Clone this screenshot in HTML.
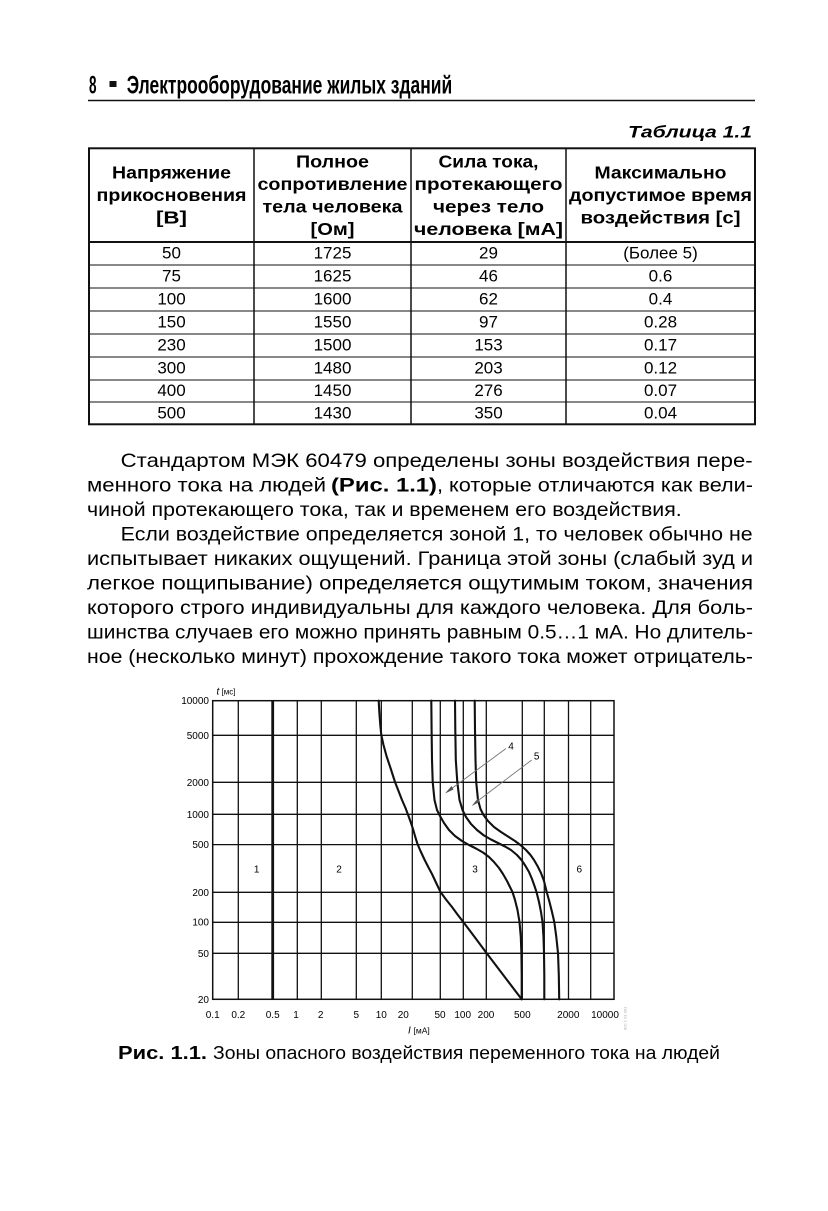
<!DOCTYPE html>
<html><head><meta charset="utf-8">
<style>
html,body{margin:0;padding:0;background:#fff;}
body{width:828px;height:1211px;overflow:hidden;}
svg{display:block;}
text{font-family:"Liberation Sans","DejaVu Sans",sans-serif;fill:#000;}
.b{font-weight:bold;}
.th{font-weight:bold;font-size:17.5px;}
.td{font-size:17px;}
.body{font-size:19.5px;}
.tk{font-size:10px;}
</style></head>
<body>
<svg width="828" height="1211" viewBox="0 0 828 1211" xmlns="http://www.w3.org/2000/svg">
<rect width="828" height="1211" fill="#fff"/>

<!-- Running header -->
<text x="89" y="93.3" class="b" font-size="25" textLength="7.5" lengthAdjust="spacingAndGlyphs">8</text>
<rect x="109.5" y="81" width="7" height="6" fill="#111"/>
<text x="126.7" y="93.3" class="b" font-size="25" textLength="325.5" lengthAdjust="spacingAndGlyphs">Электрооборудование жилых зданий</text>
<line x1="88" y1="100.5" x2="755" y2="100.5" stroke="#111" stroke-width="1.5"/>

<!-- Table title -->
<text x="628" y="137.3" class="b" font-style="italic" font-size="17" textLength="124" lengthAdjust="spacingAndGlyphs">Таблица 1.1</text>

<!-- Table lines -->
<g stroke="#111" fill="none">
  <rect x="89" y="148.3" width="666" height="276" stroke-width="2"/>
  <line x1="89" y1="242" x2="755" y2="242" stroke-width="2"/>
  <line x1="89" y1="265" x2="755" y2="265" stroke-width="1"/>
  <line x1="89" y1="288" x2="755" y2="288" stroke-width="1"/>
  <line x1="89" y1="311" x2="755" y2="311" stroke-width="1"/>
  <line x1="89" y1="334" x2="755" y2="334" stroke-width="1"/>
  <line x1="89" y1="357" x2="755" y2="357" stroke-width="1"/>
  <line x1="89" y1="380" x2="755" y2="380" stroke-width="1"/>
  <line x1="89" y1="402" x2="755" y2="402" stroke-width="1"/>
  <line x1="254" y1="148.3" x2="254" y2="424.3" stroke-width="1.5"/>
  <line x1="411" y1="148.3" x2="411" y2="424.3" stroke-width="1.5"/>
  <line x1="566" y1="148.3" x2="566" y2="424.3" stroke-width="1.5"/>
</g>

<!-- Table header text -->
<g class="th">
  <text class="th" x="112" y="178.5" textLength="119" lengthAdjust="spacingAndGlyphs">Напряжение</text>
  <text class="th" x="96.5" y="201" textLength="150" lengthAdjust="spacingAndGlyphs">прикосновения</text>
  <text class="th" x="156" y="223.5" textLength="31" lengthAdjust="spacingAndGlyphs">[В]</text>

  <text class="th" x="296" y="167.3" textLength="73" lengthAdjust="spacingAndGlyphs">Полное</text>
  <text class="th" x="257.5" y="189.8" textLength="150" lengthAdjust="spacingAndGlyphs">сопротивление</text>
  <text class="th" x="262.5" y="212.3" textLength="140" lengthAdjust="spacingAndGlyphs">тела человека</text>
  <text class="th" x="310.5" y="234.8" textLength="44" lengthAdjust="spacingAndGlyphs">[Ом]</text>

  <text class="th" x="438.5" y="167.3" textLength="100" lengthAdjust="spacingAndGlyphs">Сила тока,</text>
  <text class="th" x="414.5" y="189.8" textLength="148" lengthAdjust="spacingAndGlyphs">протекающего</text>
  <text class="th" x="433" y="212.3" textLength="111" lengthAdjust="spacingAndGlyphs">через тело</text>
  <text class="th" x="414" y="234.8" textLength="149" lengthAdjust="spacingAndGlyphs">человека [мА]</text>

  <text class="th" x="594.5" y="178.5" textLength="132" lengthAdjust="spacingAndGlyphs">Максимально</text>
  <text class="th" x="569" y="201" textLength="183" lengthAdjust="spacingAndGlyphs">допустимое время</text>
  <text class="th" x="580.5" y="223.5" textLength="160" lengthAdjust="spacingAndGlyphs">воздействия [с]</text>
</g>

<!-- Table body -->
<g class="td" text-anchor="middle">
  <text class="td" x="171.5" y="258.5">50</text><text class="td" x="332.5" y="258.5">1725</text><text class="td" x="488.5" y="258.5">29</text><text class="td" x="660.5" y="258.5">(Более 5)</text>
  <text class="td" x="171.5" y="281.5">75</text><text class="td" x="332.5" y="281.5">1625</text><text class="td" x="488.5" y="281.5">46</text><text class="td" x="660.5" y="281.5">0.6</text>
  <text class="td" x="171.5" y="304.5">100</text><text class="td" x="332.5" y="304.5">1600</text><text class="td" x="488.5" y="304.5">62</text><text class="td" x="660.5" y="304.5">0.4</text>
  <text class="td" x="171.5" y="327.5">150</text><text class="td" x="332.5" y="327.5">1550</text><text class="td" x="488.5" y="327.5">97</text><text class="td" x="660.5" y="327.5">0.28</text>
  <text class="td" x="171.5" y="350.5">230</text><text class="td" x="332.5" y="350.5">1500</text><text class="td" x="488.5" y="350.5">153</text><text class="td" x="660.5" y="350.5">0.17</text>
  <text class="td" x="171.5" y="373.5">300</text><text class="td" x="332.5" y="373.5">1480</text><text class="td" x="488.5" y="373.5">203</text><text class="td" x="660.5" y="373.5">0.12</text>
  <text class="td" x="171.5" y="396">400</text><text class="td" x="332.5" y="396">1450</text><text class="td" x="488.5" y="396">276</text><text class="td" x="660.5" y="396">0.07</text>
  <text class="td" x="171.5" y="418.5">500</text><text class="td" x="332.5" y="418.5">1430</text><text class="td" x="488.5" y="418.5">350</text><text class="td" x="660.5" y="418.5">0.04</text>
</g>

<!-- Body text -->
<text class="body" x="120.7" y="467" textLength="632" lengthAdjust="spacingAndGlyphs">Стандартом МЭК 60479 определены зоны воздействия пере-</text>
<text class="body" x="87" y="491.5" textLength="239" lengthAdjust="spacingAndGlyphs">менного тока на людей</text>
<text class="body b" x="331" y="491.5" textLength="106" lengthAdjust="spacingAndGlyphs">(Рис. 1.1)</text>
<text class="body" x="437" y="491.5" textLength="316" lengthAdjust="spacingAndGlyphs">, которые отличаются как вели-</text>
<text class="body" x="87" y="516" textLength="594.7" lengthAdjust="spacingAndGlyphs">чиной протекающего тока, так и временем его воздействия.</text>
<text class="body" x="120.7" y="540.5" textLength="632" lengthAdjust="spacingAndGlyphs">Если воздействие определяется зоной 1, то человек обычно не</text>
<text class="body" x="87" y="565" textLength="666" lengthAdjust="spacingAndGlyphs">испытывает никаких ощущений. Граница этой зоны (слабый зуд и</text>
<text class="body" x="87" y="589.5" textLength="666" lengthAdjust="spacingAndGlyphs">легкое  пощипывание)  определяется  ощутимым  током,  значения</text>
<text class="body" x="87" y="614" textLength="666" lengthAdjust="spacingAndGlyphs">которого строго индивидуальны для каждого человека. Для боль-</text>
<text class="body" x="87" y="638.5" textLength="666" lengthAdjust="spacingAndGlyphs">шинства случаев его можно принять равным 0.5…1 мА. Но длитель-</text>
<text class="body" x="87" y="663" textLength="666" lengthAdjust="spacingAndGlyphs">ное (несколько минут) прохождение такого тока может отрицатель-</text>

<!-- Chart grid -->
<g stroke="#111" stroke-width="1.3" fill="none">
  <line x1="238.3" y1="700.7" x2="238.3" y2="999.3"/>
  <line x1="297.3" y1="700.7" x2="297.3" y2="999.3"/>
  <line x1="321.3" y1="700.7" x2="321.3" y2="999.3"/>
  <line x1="356.3" y1="700.7" x2="356.3" y2="999.3"/>
  <line x1="381.3" y1="700.7" x2="381.3" y2="999.3"/>
  <line x1="412.3" y1="700.7" x2="412.3" y2="999.3"/>
  <line x1="440.3" y1="700.7" x2="440.3" y2="999.3"/>
  <line x1="463.3" y1="700.7" x2="463.3" y2="999.3"/>
  <line x1="486.3" y1="700.7" x2="486.3" y2="999.3"/>
  <line x1="522.3" y1="700.7" x2="522.3" y2="999.3"/>
  <line x1="544.3" y1="700.7" x2="544.3" y2="999.3"/>
  <line x1="568.5" y1="700.7" x2="568.5" y2="999.3"/>
  <line x1="590.7" y1="700.7" x2="590.7" y2="999.3"/>
  <line x1="212.7" y1="735.3" x2="614" y2="735.3"/>
  <line x1="212.7" y1="782.3" x2="614" y2="782.3"/>
  <line x1="212.7" y1="814.3" x2="614" y2="814.3"/>
  <line x1="212.7" y1="844.6" x2="614" y2="844.6"/>
  <line x1="212.7" y1="892.3" x2="614" y2="892.3"/>
  <line x1="212.7" y1="922.3" x2="614" y2="922.3"/>
  <line x1="212.7" y1="953.3" x2="614" y2="953.3"/>
  <rect x="212.7" y="700.7" width="401.3" height="298.6" stroke-width="1.5"/>
  <line x1="272.7" y1="700.7" x2="272.7" y2="999.3" stroke-width="2.8"/>
</g>

<!-- Curves -->
<g stroke="#111" stroke-width="2.1" fill="none" stroke-linejoin="round" stroke-linecap="round">
  <polyline points="378.7,700.7 379.3,712 380.2,724 381.3,735 383.5,745 386.5,756 390.5,768 395,782 398.5,791 402,800 405.5,808 408.5,816 411,823 413.3,830 415.3,837 417.5,844 420.5,851 424.2,859 428,866.5 432,874 436.2,883 440.5,892 446,899.5 452,907 457.5,914.5 463.3,922 475,937.5 486.5,953 504,976 521.7,999.3"/>
  <polyline points="431.3,700.7 431.6,730 432,760 432.7,782 434.5,800 437,810 440,816 444,823 449,830 455,836 462,841 469,845 476,848.5 483,852.5 489,857 494,862 499,868 503,874 507,881 510,887 512.5,892 515,900 517.5,910 519.5,922 520.8,937 521.4,953 521.7,975 521.7,999.3"/>
  <polyline points="455,700.7 455.3,730 455.8,760 457.3,782 459.5,800 462.5,810 466,817 471,824 477,830 484,835.5 491,839.5 498,843 505,846.5 511,850 517,855 521.5,860 525.5,866 529,872 532,879 534.5,886 536.5,892 539,902 541,912 542.5,922 543.5,937 544,953 544.3,975 544.3,999.3"/>
  <polyline points="474.7,700.7 475,730 475.5,760 476.2,782 478,800 480.5,809 483.5,815 488,821 494,827 501,832 508,836.5 515,841 521,845.5 526,850 530.5,855 534,860 537.5,866 541,873 544,881 546.7,892 549.5,902 552,912 554.3,922 556.3,937 558,953 558.8,975 559.2,999.3"/>
</g>

<!-- Arrows -->
<g stroke="#777" stroke-width="0.9">
  <line x1="506" y1="748.5" x2="449" y2="790.5"/>
  <line x1="531.7" y1="760" x2="475" y2="803"/>
</g>
<polygon points="445,793.5 451.5,786 453.5,789.5" fill="#555"/>
<polygon points="471.7,806 478,798.3 480,801.8" fill="#555"/>
<text x="511" y="749.5" font-size="10" text-anchor="middle">4</text>
<text x="536.7" y="759.5" font-size="10" text-anchor="middle">5</text>

<!-- Zone labels -->
<g font-size="10" text-anchor="middle">
  <text x="256.7" y="872.5">1</text>
  <text x="339" y="872.5">2</text>
  <text x="475" y="872.5">3</text>
  <text x="579.3" y="872.5">6</text>
</g>

<!-- Y tick labels -->
<g class="tk" text-anchor="end">
  <text class="tk" x="209" y="704.2">10000</text>
  <text class="tk" x="209" y="738.8">5000</text>
  <text class="tk" x="209" y="785.8">2000</text>
  <text class="tk" x="209" y="817.8">1000</text>
  <text class="tk" x="209" y="848">500</text>
  <text class="tk" x="209" y="895.8">200</text>
  <text class="tk" x="209" y="925.6">100</text>
  <text class="tk" x="209" y="956.8">50</text>
  <text class="tk" x="209" y="1002.8">20</text>
</g>

<!-- X tick labels -->
<g class="tk" text-anchor="middle">
  <text class="tk" x="212.7" y="1018">0.1</text>
  <text class="tk" x="238.3" y="1018">0.2</text>
  <text class="tk" x="272.7" y="1018">0.5</text>
  <text class="tk" x="296" y="1018">1</text>
  <text class="tk" x="320.7" y="1018">2</text>
  <text class="tk" x="356.3" y="1018">5</text>
  <text class="tk" x="381.3" y="1018">10</text>
  <text class="tk" x="403.3" y="1018">20</text>
  <text class="tk" x="440" y="1018">50</text>
  <text class="tk" x="462.7" y="1018">100</text>
  <text class="tk" x="486" y="1018">200</text>
  <text class="tk" x="522.3" y="1018">500</text>
  <text class="tk" x="568.3" y="1018">2000</text>
  <text class="tk" x="605" y="1018">10000</text>
</g>

<!-- Axis titles -->
<text x="216.5" y="694.5" font-size="10" font-style="italic">t</text>
<text x="221.5" y="694.5" font-size="8">[мс]</text>
<text x="408" y="1033.5" font-size="10" font-style="italic">I</text>
<text x="413.5" y="1033.5" font-size="8.5">[мА]</text>

<!-- tiny vertical code -->
<text x="0" y="0" font-size="4" fill="#aaa" style="fill:#aaa" transform="translate(626.5,1030) rotate(-90)">IEC 1 01 001</text>

<!-- Caption -->
<text x="118" y="1059" class="b" font-size="18" textLength="89" lengthAdjust="spacingAndGlyphs">Рис. 1.1.</text>
<text x="213" y="1059" font-size="18" textLength="507" lengthAdjust="spacingAndGlyphs">Зоны опасного воздействия переменного тока на людей</text>
</svg>
</body></html>
